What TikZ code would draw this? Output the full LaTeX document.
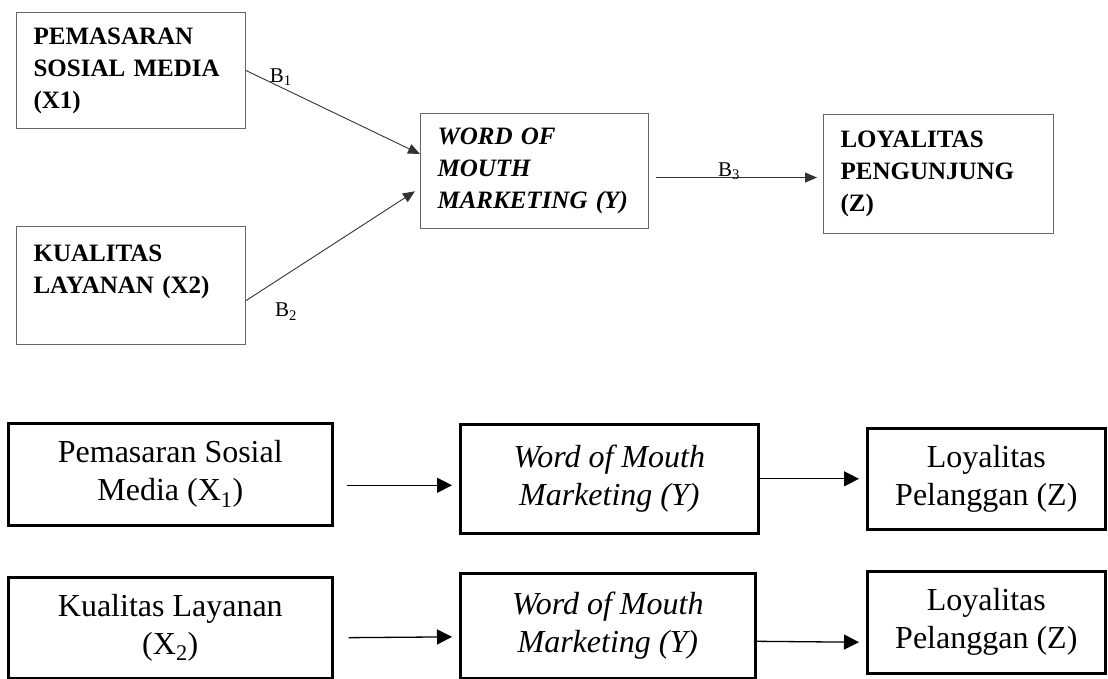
\documentclass[tikz,border=0pt]{standalone}
\usepackage{fontspec}
\setmainfont{Liberation Serif}
\usetikzlibrary{arrows.meta}

\tikzset{
  model/.style={draw=black!60, line width=1.1pt, anchor=north west,
    align=left, inner xsep=17pt, inner ysep=0pt,
    font=\bfseries\fontsize{25}{32}\selectfont},
  var/.style={draw, line width=2.6pt, anchor=north west, align=center,
    inner sep=0pt, font=\fontsize{32}{38}\selectfont},
  effect/.style={-{Triangle[length=12pt,width=10pt]}, line width=0.9pt,
    draw=black!80},
  flow/.style={-{Triangle[length=15pt,width=15pt]}, line width=1.3pt},
  coef/.style={font=\fontsize{21}{24}\selectfont}
}

\begin{document}
\begin{tikzpicture}[x=1pt,y=-1pt]
  \useasboundingbox (0,0) rectangle (1108,679);
  % research model
  \node[model, text width=195pt, minimum height=116pt] (psm) at (16,12)
    {PEMASARAN\\SOSIAL MEDIA\\(X1)};
  \node[model, text width=195pt, minimum height=118pt] (kl) at (16,226)
    {KUALITAS\\LAYANAN (X2)\\~};
  \node[model, text width=194pt, minimum height=115pt,
    font=\bfseries\itshape\fontsize{25}{32}\selectfont] (wom) at (420,113)
    {WORD OF\\MOUTH\\MARKETING (Y)};
  \node[model, text width=196pt, minimum height=119pt] (lp) at (823,114)
    {LOYALITAS\\PENGUNJUNG\\(Z)};
  \draw[effect] (psm.east) -- ([yshift=17pt]wom.west)
    node[coef, pos=0.2, yshift=10pt] (b1) {B\textsubscript{1}};
  \draw[effect, shorten >=6pt] ([yshift=-15pt]kl.east) -- ([yshift=-17pt]wom.west)
    node[coef, pos=0.23, yshift=-37pt] (b2) {B\textsubscript{2}};
  \draw[effect, shorten <=7pt, shorten >=6pt] ([yshift=-6.5pt]wom.east) -- ([yshift=-3.5pt]lp.west)
    node[coef, pos=0.46, yshift=6pt] (b3) {B\textsubscript{3}};

  % partial paths
  \node[var, minimum width=324pt, minimum height=102pt] (psm1) at (7,422)
    {Pemasaran Sosial\\Media (X\textsubscript{1})};
  \node[var, minimum width=298pt, minimum height=109pt, font=\itshape\fontsize{32}{38}\selectfont] (wom1) at (459,423)
    {Word of Mouth\\Marketing (Y)};
  \node[var, minimum width=238pt, minimum height=101pt] (lp1) at (866,427)
    {Loyalitas\\Pelanggan (Z)};
  \node[var, minimum width=324pt, minimum height=101pt] (kl2) at (7,576)
    {Kualitas Layanan\\(X\textsubscript{2})};
  \node[var, minimum width=295pt, minimum height=105pt, font=\itshape\fontsize{32}{38}\selectfont] (wom2) at (459,572)
    {Word of Mouth\\Marketing (Y)};
  \node[var, minimum width=238pt, minimum height=102pt] (lp2) at (866,570)
    {Loyalitas\\Pelanggan (Z)};
  \draw[flow, shorten <=13pt, shorten >=7pt] ([yshift=-11pt]psm1.east) -- ([yshift=-6.5pt]wom1.west);
  \draw[flow, shorten >=7pt] (wom1.east) -- (lp1.west);
  \draw[flow, shorten <=15pt, shorten >=7pt] ([yshift=-10pt]kl2.east) -- ([yshift=-11pt]wom2.west);
  \draw[flow, shorten >=7pt] ([yshift=-15.5pt]wom2.east) -- ([yshift=-20pt]lp2.west);
\end{tikzpicture}
\end{document}
